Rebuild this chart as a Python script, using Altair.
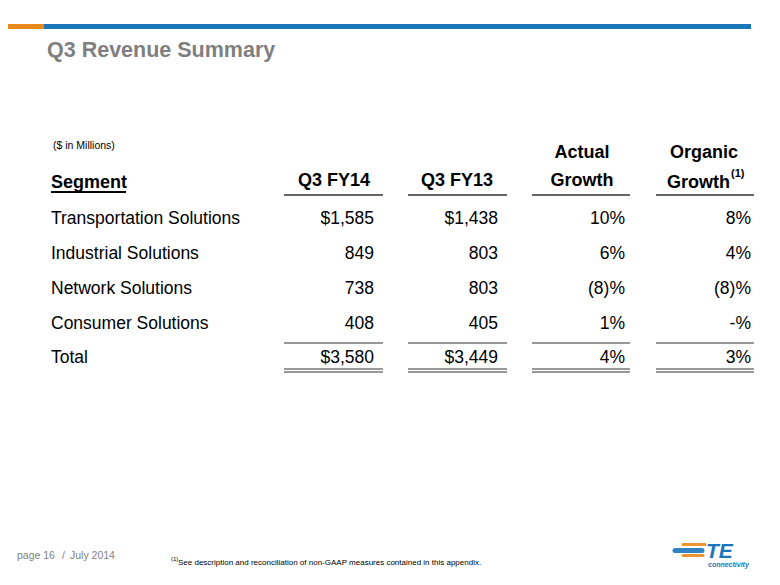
import altair as alt
import pandas as pd

# ---------------- data ----------------
segments = ["Transportation Solutions", "Industrial Solutions", "Network Solutions",
            "Consumer Solutions", "Total"]
q3_fy14 = ["$1,585", "849", "738", "408", "$3,580"]
q3_fy13 = ["$1,438", "803", "803", "405", "$3,449"]
actual_growth = ["10%", "6%", "(8)%", "1%", "4%"]
organic_growth = ["8%", "4%", "(8)%", "-%", "3%"]
columns = [q3_fy14, q3_fy13, actual_growth, organic_growth]

title_text = "Q3 Revenue Summary"
units_text = "($ in Millions)"
footer_page = "page 16"
footer_date = "July 2014"
footnote = "See description and reconciliation of non-GAAP measures contained in this appendix."

# ---------------- layout (page pixels) ----------------
W, H = 764, 569
OFF = 8
def px(v):
    return max(v - OFF, 0)

SANS = "Liberation Sans, Arial, Helvetica, sans-serif"
BLUE = "#1a75bb"
ORANGE = "#e8891c"
GRAY = "#7f7f7f"
ROW_FS = 17.5
HDR_FS = 18

X_LABEL = 51
COL_RIGHT = [374, 498, 625, 751]
ROW_BASE = [224, 259, 294, 329, 363]
HDR_LINE_Y = 195
HDR_SPANS = [(284, 383), (408, 507), (532, 630), (656, 754)]
TOTAL_TOP_Y = 343
TOTAL_BOT_Y = [369, 372]

xs = alt.Scale(domain=[0, W], range=[0, W], nice=False, zero=False)
ys = alt.Scale(domain=[0, H], range=[0, H], nice=False, zero=False)

def X(f="x"):
    return alt.X(f"{f}:Q", scale=xs, axis=None)
def Y(f="y"):
    return alt.Y(f"{f}:Q", scale=ys, axis=None)

layers = []

# top bar
bar = pd.DataFrame({"x": [px(0), px(44)], "x2": [px(44), px(751)], "y": [px(26.5)] * 2,
                    "c": [ORANGE, BLUE]})
layers.append(alt.Chart(bar).mark_rule(strokeWidth=5).encode(
    x=X(), x2="x2:Q", y=Y(), color=alt.Color("c:N", scale=None)))

def text_layer(df, **kw):
    base = dict(baseline="alphabetic")
    base.update(kw)
    return alt.Chart(df).mark_text(**base).encode(x=X(), y=Y(), text="t:N")

# title
layers.append(text_layer(pd.DataFrame({"x": [px(47)], "y": [px(57)], "t": [title_text]}),
                         align="left", font=SANS, fontSize=21.5, fontWeight="bold", color=GRAY))
# units
layers.append(text_layer(pd.DataFrame({"x": [px(53)], "y": [px(149)], "t": [units_text]}),
                         align="left", font=SANS, fontSize=10.5, color="#000000"))

# headers
hdr = pd.DataFrame({
    "x": [px(334), px(457), px(582), px(582), px(704)],
    "y": [px(186), px(186), px(158), px(186), px(158)],
    "t": ["Q3 FY14", "Q3 FY13", "Actual", "Growth", "Organic"],
})
layers.append(text_layer(hdr, align="center", font=SANS, fontSize=HDR_FS, fontWeight="bold",
                         color="#000000"))
layers.append(text_layer(pd.DataFrame({"x": [px(667)], "y": [px(188)], "t": ["Growth"]}),
                         align="left", font=SANS, fontSize=HDR_FS, fontWeight="bold",
                         color="#000000"))
layers.append(text_layer(pd.DataFrame({"x": [px(731)], "y": [px(177)], "t": ["(1)"]}),
                         align="left", font=SANS, fontSize=11, fontWeight="bold",
                         color="#000000"))
layers.append(text_layer(pd.DataFrame({"x": [px(X_LABEL)], "y": [px(188)], "t": ["Segment"]}),
                         align="left", font=SANS, fontSize=HDR_FS, fontWeight="bold",
                         color="#000000"))
# Segment underline
ul = pd.DataFrame({"x": [px(51)], "x2": [px(126)], "y": [px(192)]})
layers.append(alt.Chart(ul).mark_rule(strokeWidth=2, color="#000000").encode(
    x=X(), x2="x2:Q", y=Y()))

# row labels
lab = pd.DataFrame({"x": [px(X_LABEL)] * len(segments), "y": [px(v) for v in ROW_BASE],
                    "t": segments})
layers.append(text_layer(lab, align="left", font=SANS, fontSize=ROW_FS, color="#000000"))

# cells
rows = []
for ci, col in enumerate(columns):
    for ri, val in enumerate(col):
        rows.append({"x": px(COL_RIGHT[ci]), "y": px(ROW_BASE[ri]), "t": val})
layers.append(text_layer(pd.DataFrame(rows), align="right", font=SANS, fontSize=ROW_FS,
                         color="#000000"))

# header lines and total lines
lines = []
for a, b in HDR_SPANS:
    lines.append({"x": px(a), "x2": px(b), "y": px(HDR_LINE_Y), "w": 1.6})
    lines.append({"x": px(a), "x2": px(b), "y": px(TOTAL_TOP_Y), "w": 1.2})
    for yy in TOTAL_BOT_Y:
        lines.append({"x": px(a), "x2": px(b), "y": px(yy), "w": 1.2})
ldf = pd.DataFrame(lines)
layers.append(alt.Chart(ldf).mark_rule(color="#333333").encode(
    x=X(), x2="x2:Q", y=Y(), strokeWidth=alt.StrokeWidth("w:Q", scale=None)))

# footer
foot = pd.DataFrame({"x": [px(17), px(62), px(70)], "y": [px(559)] * 3,
                     "t": [footer_page, "/", footer_date]})
layers.append(text_layer(foot, align="left", font=SANS, fontSize=10.5, color=GRAY))
layers.append(text_layer(pd.DataFrame({"x": [px(171)], "y": [px(561)], "t": ["(1)"]}),
                         align="left", font=SANS, fontSize=6, color="#000000"))
layers.append(text_layer(pd.DataFrame({"x": [px(178)], "y": [px(565)], "t": [footnote]}),
                         align="left", font=SANS, fontSize=8, color="#000000"))

# logo
streaks = pd.DataFrame({
    "x": [px(683), px(675), px(683)], "x2": [px(705), px(702), px(703)],
    "y": [px(544.5), px(550.5), px(555.5)], "w": [3, 5, 3],
    "c": [ORANGE, BLUE, ORANGE]})
layers.append(alt.Chart(streaks).mark_rule(strokeCap="round", opacity=0.9).encode(
    x=X(), x2="x2:Q", y=Y(), color=alt.Color("c:N", scale=None),
    strokeWidth=alt.StrokeWidth("w:Q", scale=None)))
layers.append(text_layer(pd.DataFrame({"x": [px(706)], "y": [px(558)], "t": ["TE"]}),
                         align="left", font=SANS, fontSize=21, fontWeight="bold",
                         fontStyle="italic", color=BLUE))
layers.append(text_layer(pd.DataFrame({"x": [px(708)], "y": [px(567)], "t": ["connectivity"]}),
                         align="left", font=SANS, fontSize=7, fontWeight="bold",
                         fontStyle="italic", color=BLUE))

chart = alt.layer(*layers).properties(
    width=W, height=H, padding=0,
    autosize=alt.AutoSizeParams(type="none"),
    background="#ffffff",
).configure_view(stroke=None)

chart.save("out.html", embed_options={"renderer": "svg", "actions": False})
